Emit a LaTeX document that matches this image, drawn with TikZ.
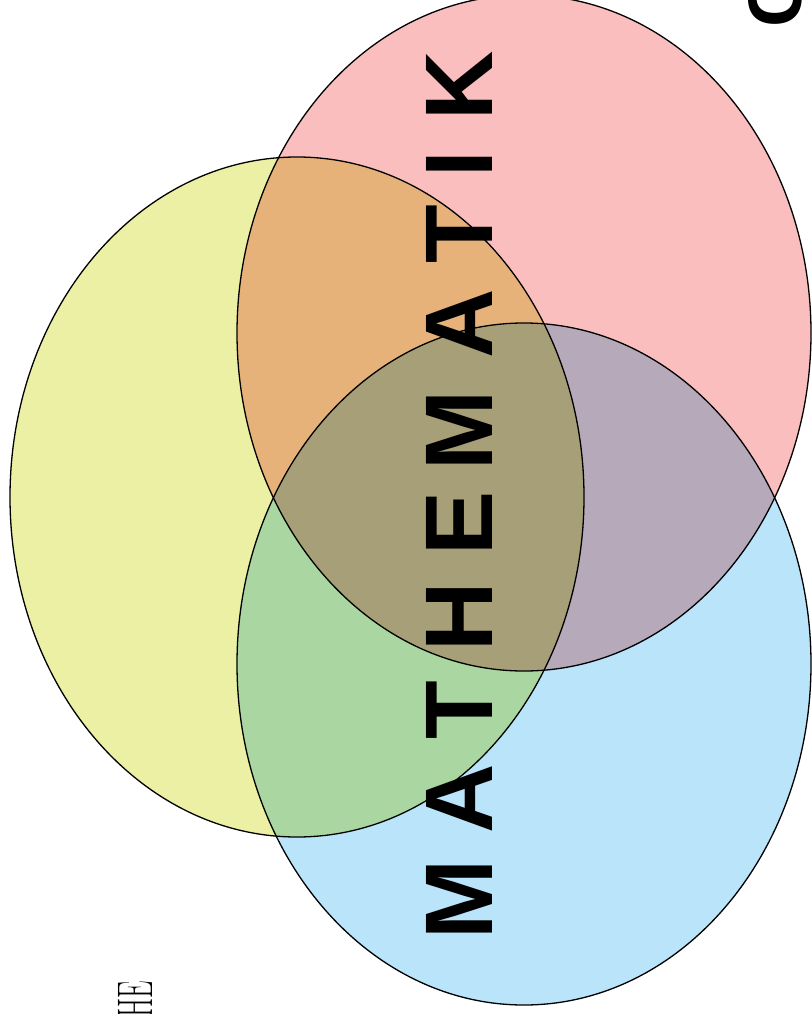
\documentclass[tikz,border=0pt]{standalone}
\usepackage{fontspec}
\newfontfamily\heavyfont{Liberation Sans}
\definecolor{setred}{RGB}{250,190,190}
\definecolor{setyellow}{RGB}{235,240,165}
\definecolor{setblue}{RGB}{185,228,250}
\tikzset{
  vennset/.style={draw=black, line width=1.3pt, fill=#1},
  bigletter/.style={rotate=90, anchor=base, inner sep=0pt,
    font=\heavyfont\bfseries\fontsize{96}{96}\selectfont}
}
\begin{document}
\begin{tikzpicture}[x=1pt,y=-1pt]
  \useasboundingbox (0,0) rectangle (811,1014);
  \clip (0,0) rectangle (811,1014);

  % Centres of the three sets
  \coordinate (Y) at (297,497);
  \coordinate (R) at (524,333);
  \coordinate (B) at (524,664);

  % Sets
  \begin{scope}[blend group=multiply]
    \path[vennset=setyellow] (Y) ellipse [x radius=287, y radius=340];
    \path[vennset=setred] (R) ellipse [x radius=287, y radius=338];
    \path[vennset=setblue] (B) ellipse [x radius=287, y radius=341];
  \end{scope}

  % Word, one letter at a time
  \foreach \ch/\ypos [count=\i] in {M/900,A/799,T/710,H/617,E/523,M/431,A/324,T/234,I/164,K/86}
    \node[bigletter] (let\i) at (492,\ypos) {\ch};

  % Cut-off glyphs at the corners
  \node[rotate=90, anchor=base, inner sep=0pt,
    font=\heavyfont\bfseries\fontsize{76}{76}\selectfont] (corner) at (801,0) {C};
  \node[rotate=90, anchor=base east, inner sep=0pt,
    font=\fontsize{50}{50}\selectfont] (foot) at (152,981) {\scalebox{0.55}[1]{HE}};
\end{tikzpicture}
\end{document}
